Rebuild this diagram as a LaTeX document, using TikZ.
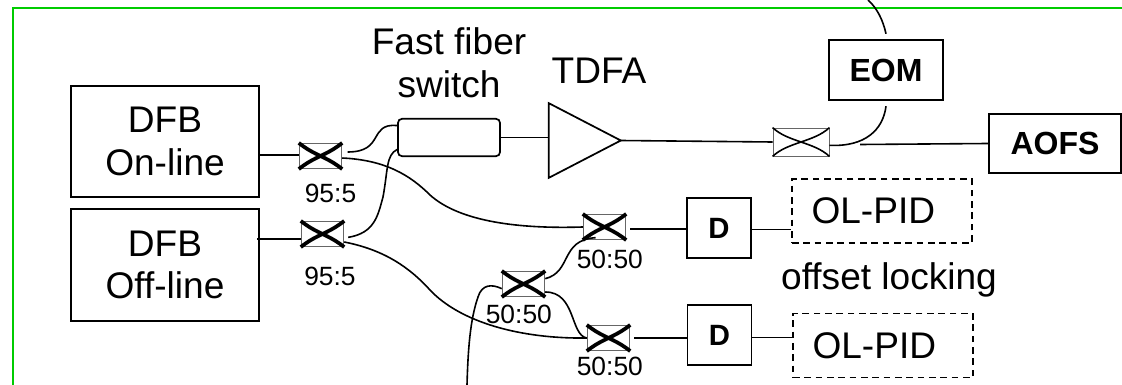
\documentclass[tikz,border=0pt]{standalone}
\usepackage{fontspec}
\setmainfont{Liberation Sans}
\usepackage{xcolor}
\usetikzlibrary{positioning}
\usetikzlibrary{shapes.geometric}
\definecolor{framegreen}{RGB}{0,204,0}
\tikzset{
    fiber/.style={line width=1.2pt},
    block/.style={draw,line width=1.3pt,inner sep=0pt,align=center,font=\fontsize{27.8}{32}\selectfont},
    boldblock/.style={block,font=\fontsize{24}{28}\selectfont\bfseries},
    pidblock/.style={block,dashed,dash pattern=on 5pt off 3.5pt},
    tag/.style={inner sep=0pt,align=center,font=\fontsize{27.8}{32}\selectfont},
    ratio/.style={inner sep=0pt,font=\fontsize{19.8}{24}\selectfont},
    coupler/.style={draw=black!60,line width=0.6pt,inner sep=0pt,minimum width=32pt,minimum height=19pt},
    crossarm/.style={line width=2.8pt},
    thinarm/.style={line width=1.2pt},
}
\begin{document}
\begin{tikzpicture}[x=0.75pt,y=-0.75pt]
    \useasboundingbox (0,0) rectangle (1122,385);
    \draw[framegreen,line width=1.5pt] (13,385) -- (13,8) -- (1122,8);
    % sources and switch
    \node[block,minimum width=141pt,minimum height=83pt] (dfbon) at (165,141.5) {DFB\\On-line};
    \node[block,minimum width=141pt,minimum height=84pt] (dfboff) at (165,265) {DFB\\Off-line};
    \node[draw,line width=1.3pt,rounded corners=3pt,minimum width=76.5pt,minimum height=28pt,inner sep=0pt] (fastsw) at (449,137.5) {};
    \node[tag,above=15pt of fastsw] (swlabel) {Fast fiber\\switch};
    \node[draw,line width=1.3pt,isosceles triangle,isosceles triangle stretches,shape border rotate=0,
        minimum width=56pt,minimum height=54pt,inner sep=0pt,outer sep=0pt] (tdfa) at (571.5,140.5) {};
    \node[tag] (tdfalabel) at (599,71) {TDFA};
    % couplers
    \node[coupler] (cplon) at (320.5,156) {};
    \node[coupler] (cploff) at (322.5,234) {};
    \node[coupler] (cplmix) at (523.5,284) {};
    \node[coupler] (cplup) at (604.5,227) {};
    \node[coupler] (cpllow) at (608.5,338) {};
    \node[coupler,minimum width=42pt,minimum height=21pt] (cplout) at (801,142) {};
    \foreach \n in {cplon,cploff,cplmix,cplup,cpllow}{
        \draw[crossarm] (\n.north west) .. controls ([xshift=-4pt]\n.center) and ([xshift=4pt]\n.center) .. (\n.south east);
        \draw[crossarm] (\n.south west) .. controls ([xshift=-4pt]\n.center) and ([xshift=4pt]\n.center) .. (\n.north east);
    }
    \draw[thinarm] (cplout.north west) .. controls ([xshift=-10pt]cplout.center) and ([xshift=10pt]cplout.center) .. (cplout.south east);
    \draw[thinarm] (cplout.south west) .. controls ([xshift=-10pt]cplout.center) and ([xshift=10pt]cplout.center) .. (cplout.north east);
    \node[ratio,below=11pt of cplon,xshift=7.5pt] (ron) {95:5};
    \node[ratio,below=15pt of cploff,xshift=5.6pt] (roff) {95:5};
    \node[ratio,below=7pt of cplup,xshift=4pt] (rup) {50:50};
    \node[ratio,below=6pt of cplmix,xshift=-3.5pt] (rmix) {50:50};
    \node[ratio,below=4.5pt of cpllow,xshift=1pt] (rlow) {50:50};
    % output side
    \node[boldblock,minimum width=85.5pt,minimum height=45pt] (eom) at (886,70) {EOM};
    \node[boldblock,minimum width=99pt,minimum height=44pt] (aofs) at (1055,143.5) {AOFS};
    \node[boldblock,minimum width=48pt,minimum height=45pt,font=\fontsize{22}{26}\selectfont\bfseries] (dup) at (719,228) {D};
    \node[boldblock,minimum width=48pt,minimum height=45pt,font=\fontsize{22}{26}\selectfont\bfseries] (dlow) at (719.5,335) {D};
    \node[pidblock,minimum width=135pt,minimum height=48pt] (pidup) at (882,211) {OL-PID\hspace*{13pt}};
    \node[pidblock,minimum width=135pt,minimum height=48pt] (pidlow) at (883,345.5) {OL-PID\hspace*{13pt}};
    \node[tag] (offset) at (889,280) {offset locking};
    \coordinate (auxin) at (467,385);
    \coordinate (eomtop) at (868,0);
    \coordinate (aofsin) at (860,144.5);
    % fibers
    \draw[fiber] ([yshift=-10pt]dfbon.east) -- ([yshift=-10pt]dfbon.east -| cplon.west);
    \draw[fiber] ([xshift=-2pt,yshift=19.5pt]dfboff.east) -- ([yshift=19.5pt]dfboff.east -| cploff.west);
    \draw[fiber,shorten <=4pt] ([yshift=3pt]cplon.east) .. controls (385,152) and (368,123) .. ([yshift=9pt]fastsw.west);
    \draw[fiber,shorten <=3pt] ([yshift=-3pt]cploff.east) .. controls (375,233) and (378,215) .. (383,197) .. controls (388,170) and (386,155) .. ([yshift=-9pt]fastsw.west);
    \draw[fiber] ([yshift=-1.5pt]cplon.east) .. controls (385,160) and (410,175) .. (430,195) .. controls (460,222) and (520,229) .. (cplup.west);
    \draw[fiber] ([yshift=-6pt]cploff.east) .. controls (385,250) and (410,268) .. (430,290) .. controls (460,322) and (520,339) .. (cpllow.west);
    \draw[fiber] (auxin) .. controls (468,350) and (470,320) .. (478,297) .. controls (482,284) and (492,284) .. ([yshift=-3.5pt]cplmix.west);
    \draw[fiber] ([yshift=4pt]cplmix.east) .. controls (572,272) and (560,240) .. ([xshift=-23pt,yshift=-8pt]cplup.east);
    \draw[fiber] ([yshift=-6pt]cplmix.east) .. controls (576,292) and (570,335) .. (cpllow.west);
    \draw[fiber,shorten <=3pt] ([yshift=-1.5pt]cplup.east) -- ([yshift=-1.5pt]cplup.east -| dup.west);
    \draw[fiber,shorten <=3pt] (cpllow.east) -- (cpllow.east -| dlow.west);
    \draw[fiber] ([yshift=-1pt]dup.east) -- ([yshift=-1pt]dup.east -| pidup.west);
    \draw[fiber] ([yshift=-2pt]dlow.east) -- ([yshift=-2pt]dlow.east -| pidlow.west);
    \draw[fiber] (fastsw.east) -- (fastsw.east -| tdfa.lower side);
    \draw[fiber] (tdfa.apex) -- (cplout.west);
    \draw[fiber] ([yshift=-2.5pt]cplout.east) .. controls (865,147) and (883,130) .. ([yshift=-4pt]eom.south);
    \draw[fiber] (aofsin) -- (aofs.west);
    \draw[fiber] ([yshift=4pt]eom.north) .. controls (883,20) and (877,8) .. (eomtop);
\end{tikzpicture}
\end{document}
